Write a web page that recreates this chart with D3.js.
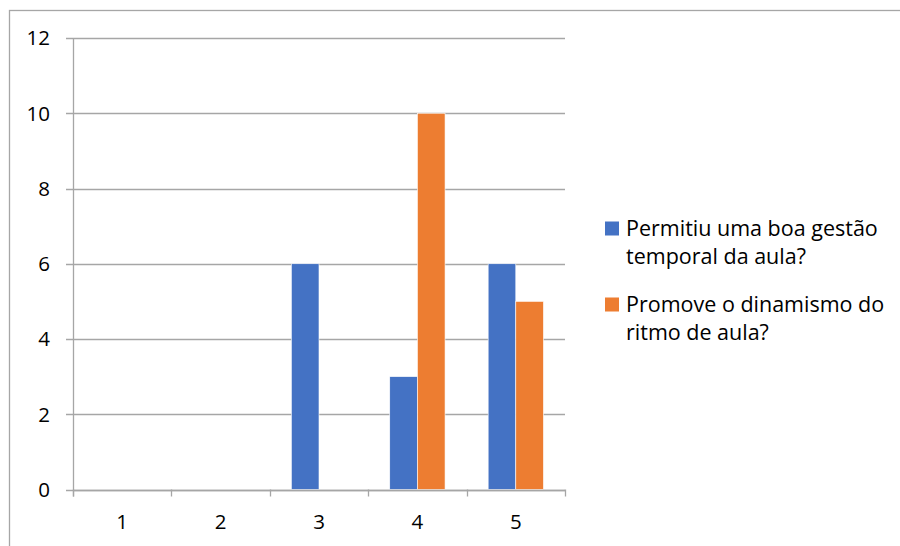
<!DOCTYPE html>
<html><head><meta charset="utf-8">
<script src="https://cdn.jsdelivr.net/npm/d3@7"></script>
<style>body{margin:0;background:#fff}svg{display:block}text{font-family:"Open Sans","Liberation Sans",sans-serif;font-variant-ligatures:none}</style>
</head><body>
<svg id="c" width="900" height="546"></svg>
<script>
const categories = ["1","2","3","4","5"];
const seriesNames = ["Permitiu uma boa gestão temporal da aula?", "Promove o dinamismo do ritmo de aula?"];
const legendLines = [["Permitiu uma boa gestão","temporal da aula?"],["Promove o dinamismo do","ritmo de aula?"]];
const seriesA = [0,0,6,3,6];
const seriesB = [0,0,0,10,5];
const yTicks = [0,2,4,6,8,10,12];
const colors = ["#4472C4","#ED7D31"];

const svg = d3.select("#c");
svg.append("rect").attr("x",9.5).attr("y",10.5).attr("width",1000).attr("height",1000)
  .attr("fill","none").attr("stroke","#a6a6a6").attr("stroke-width",1.3);

const L=73, R=565, T=38, B=489.5;
const x = d3.scaleBand().domain(categories).range([L,R]).padding(0);
const bw = x.bandwidth();
const x1 = d3.scaleBand().domain([0,1]).range([bw*0.219, bw*0.781]).padding(0);
const y = d3.scaleLinear().domain([0,12]).range([B,T]);

// gridlines
svg.append("g").selectAll("line").data(yTicks).join("line")
  .attr("x1",L-7).attr("x2",R).attr("y1",d=>Math.round(y(d))+0.5).attr("y2",d=>Math.round(y(d))+0.5)
  .attr("stroke","#a6a6a6").attr("stroke-width",1.3);
// y labels
svg.append("g").selectAll("text").data(yTicks).join("text")
  .attr("x",50).attr("y",d=>y(d)).attr("dy","0.36em").attr("text-anchor","end")
  .attr("font-size",20.5).attr("fill","#000").text(d=>d);

// bars
const data = categories.map((c,i)=>[seriesA[i],seriesB[i]]);
const g = svg.append("g");
data.forEach((vals,i)=>{
  vals.forEach((v,j)=>{
    if(v<=0) return;
    g.append("rect").attr("x",x(categories[i])+x1(j)).attr("width",x1.bandwidth())
      .attr("y",y(v)).attr("height",y(0)-y(v)).attr("fill",colors[j])
      .attr("stroke","#fff").attr("stroke-width",0.6);
  });
});

// x axis
svg.append("line").attr("x1",L).attr("x2",R).attr("y1",Math.round(B)+0.5).attr("y2",Math.round(B)+0.5)
  .attr("stroke","#a6a6a6").attr("stroke-width",1.3);
svg.append("line").attr("x1",L+0.5).attr("x2",L+0.5).attr("y1",T).attr("y2",B+7)
  .attr("stroke","#a6a6a6").attr("stroke-width",1.3);
const bounds = categories.map(c=>x(c)+bw).concat([L]);
svg.append("g").selectAll("line").data(bounds).join("line")
  .attr("x1",d=>Math.round(d)+0.5).attr("x2",d=>Math.round(d)+0.5).attr("y1",B).attr("y2",B+7)
  .attr("stroke","#a6a6a6").attr("stroke-width",1.3);
svg.append("g").selectAll("text").data(categories).join("text")
  .attr("x",d=>x(d)+bw/2).attr("y",522).attr("dy","0.36em").attr("text-anchor","middle")
  .attr("font-size",20.5).attr("fill","#000").text(d=>d);

// legend
const lg = svg.append("g");
[0,1].forEach(j=>{
  const y0 = [221.5,297.5][j];
  lg.append("rect").attr("x",605).attr("y",y0).attr("width",14).attr("height",14).attr("fill",colors[j]);
  legendLines[j].forEach((t,k)=>{
    lg.append("text").attr("x",626).attr("y",y0+14+k*28).attr("font-size",21.5).attr("fill","#000").text(t);
  });
});
</script>
</body></html>
